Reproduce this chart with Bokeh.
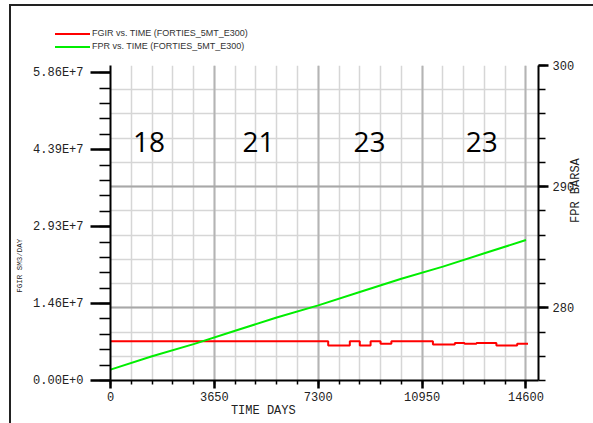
import math
from bokeh.plotting import figure
from bokeh.layouts import column
from bokeh.models import (Range1d, LinearAxis, FixedTicker, Grid, Div)
from bokeh.core.properties import value
from bokeh.embed import file_html
from bokeh.resources import INLINE

# ---------------- data ----------------
fgir_days = [0, 7650, 8410, 8760, 9140, 9490, 9870, 11330, 12100, 12440, 12860, 13560, 14290, 14670]
fgir_rate = [7.50e6, 6.68e6, 7.50e6, 6.68e6, 7.50e6, 7.01e6, 7.50e6, 6.87e6, 7.12e6, 7.01e6,
             7.12e6, 6.68e6, 7.01e6, 7.01e6]

fpr_days = [0, 1460, 2920, 4380, 5840, 7300, 8760, 10220, 11680, 13140, 14600]
fpr_bars = [274.9, 276.0, 277.0, 278.1, 279.2, 280.2, 281.3, 282.4, 283.4, 284.5, 285.6]

x_major = [0, 3650, 7300, 10950, 14600]
x_minor = [0, 730, 1460, 2190, 2920, 3650, 4380, 5110, 5840, 6570, 7300, 8030, 8760, 9490,
           10220, 10950, 11680, 12410, 13140, 13870, 14600]
x_labels = ["0", "3650", "7300", "10950", "14600"]

left_major = [0.0, 14650000.0, 29300000.0, 43950000.0, 58600000.0]
left_labels = ["0.00E+0", "1.46E+7", "2.93E+7", "4.39E+7", "5.86E+7"]
left_minor = [0.0, 2930000.0, 5860000.0, 8790000.0, 11720000.0, 14650000.0, 17580000.0,
              20510000.0, 23440000.0, 26370000.0, 29300000.0, 32230000.0, 35160000.0,
              38090000.0, 41020000.0, 43950000.0, 46880000.0, 49810000.0, 52740000.0,
              55670000.0, 58600000.0]

right_major = [280, 290, 300]
right_minor = [274, 276, 278, 280, 282, 284, 286, 288, 290, 292, 294, 296, 298, 300]

well_counts = ["18", "21", "23", "23"]
count_days = [1350, 5200, 9100, 13050]
count_level = 293.7

legend_labels = ["FGIR vs. TIME (FORTIES_5MT_E300)", "FPR vs. TIME (FORTIES_5MT_E300)"]
series_colors = ["#ff0000", "#00ee00"]
x_title = "TIME  DAYS"
left_title = "FGIR  SM3/DAY"
right_title = "FPR BARSA"

# ---------------- layout ----------------
OX, OY = 11, 6                  # page offset of the content (css margin + border)
W = 593 - OX
TOP_H = 54 - OY                 # legend strip height
H = 423 - OY - TOP_H            # main figure height
FL, FR = 110 - OX, 543 - OX     # frame in main-figure pixels
FT, FB = 65 - OY - TOP_H, 380 - OY - TOP_H
X0, X1 = 0, 15040
L0, L1 = 0, 6.0e7
R0, R1 = 274, 300
NB = "\u00a0"
MONO = "Liberation Mono"
TXT = "#222222"

# ---------------- legend strip ----------------
rows = "".join(
    '<div style="display:flex;align-items:center;height:13px;white-space:nowrap;">'
    f'<span style="display:inline-block;width:35px;height:2px;background:{c};"></span>'
    f'<span style="margin-left:2px;">{lab}</span></div>'
    for lab, c in zip(legend_labels, series_colors))
legend_div = Div(text=f'<div style="padding:{27 - OY}px 0 0 {55 - OX}px;'
                      'font-family:\'Liberation Sans\';font-size:9px;color:#333333;'
                      f'line-height:13px;">{rows}</div>',
                 width=W, height=TOP_H, margin=0)

# ---------------- main chart ----------------
p = figure(width=W, height=H, output_backend="svg", toolbar_location=None,
           x_range=Range1d(X0, X1), y_range=Range1d(L0, L1),
           x_axis_type=None, y_axis_type=None,
           min_border_left=FL, min_border_right=W - FR,
           min_border_top=FT, min_border_bottom=H - FB)
p.extra_y_ranges = {"fpr": Range1d(R0, R1)}
p.outline_line_color = None
p.background_fill_color = "white"
p.border_fill_color = "white"


def style_axis(ax, tick_out, minor_out, standoff):
    ax.axis_line_color = "black"
    ax.axis_line_width = 2
    ax.major_tick_in = 0
    ax.minor_tick_in = 0
    ax.major_tick_out = tick_out
    ax.minor_tick_out = minor_out
    ax.major_tick_line_width = 2.5
    ax.minor_tick_line_width = 1.5
    ax.major_tick_line_color = "black"
    ax.minor_tick_line_color = "black"
    ax.major_label_text_font = MONO
    ax.major_label_text_font_size = "12px"
    ax.major_label_text_color = TXT
    ax.major_label_standoff = standoff
    ax.axis_label_text_font = MONO
    ax.axis_label_text_font_style = "normal"
    ax.axis_label_text_color = TXT


# grids
p.add_layout(Grid(dimension=0, ticker=FixedTicker(ticks=x_minor),
                  grid_line_color="#d6d6d6", grid_line_width=1.5))
p.add_layout(Grid(dimension=1, y_range_name="fpr", ticker=FixedTicker(ticks=right_minor),
                  grid_line_color="#d6d6d6", grid_line_width=1.5))
p.add_layout(Grid(dimension=0, ticker=FixedTicker(ticks=x_major),
                  grid_line_color="#b4b4b4", grid_line_width=2))
p.add_layout(Grid(dimension=1, y_range_name="fpr", ticker=FixedTicker(ticks=right_major),
                  grid_line_color="#a8a8a8", grid_line_width=2))

# axes
xaxis = LinearAxis(ticker=FixedTicker(ticks=x_major, minor_ticks=x_minor))
style_axis(xaxis, 8, 4, 3)
xaxis.major_label_overrides = {float(v): t for v, t in zip(x_major, x_labels)}
xaxis.axis_label = x_title + NB * 16
xaxis.axis_label_text_font_size = "12px"
xaxis.axis_label_standoff = 0
p.add_layout(xaxis, "below")

laxis = LinearAxis(ticker=FixedTicker(ticks=left_major, minor_ticks=left_minor))
style_axis(laxis, 20, 11, 7)
laxis.major_label_overrides = {float(v): t for v, t in zip(left_major, left_labels)}
laxis.axis_label = left_title + NB * 18
laxis.axis_label_text_font_size = "7.5px"
laxis.axis_label_standoff = 6
p.add_layout(laxis, "left")

raxis = LinearAxis(y_range_name="fpr", ticker=FixedTicker(ticks=right_major, minor_ticks=right_minor))
style_axis(raxis, 10, 7, 4)
raxis.axis_label_text_font_size = "12px"
raxis.axis_label_standoff = -1
raxis.axis_label_orientation = math.pi / 2
raxis.axis_label = right_title
p.add_layout(raxis, "right")

# series
p.step(fgir_days, fgir_rate, mode="after", line_color=series_colors[0], line_width=2)
p.line(fpr_days, fpr_bars, y_range_name="fpr", line_color=series_colors[1], line_width=2)

# big numbers
p.text(x=count_days, y=[count_level] * len(count_days), text=well_counts, y_range_name="fpr",
       text_font=value("Open Sans"), text_font_size="28px", text_align="center",
       text_baseline="middle", text_color="black")

page = column(legend_div, p, spacing=0)
page.styles = {"border-left": "2px solid #222222", "border-top": "2px solid #222222",
               "margin-left": "9px", "margin-top": "4px"}

open("out.html", "w").write(file_html(page, INLINE))
